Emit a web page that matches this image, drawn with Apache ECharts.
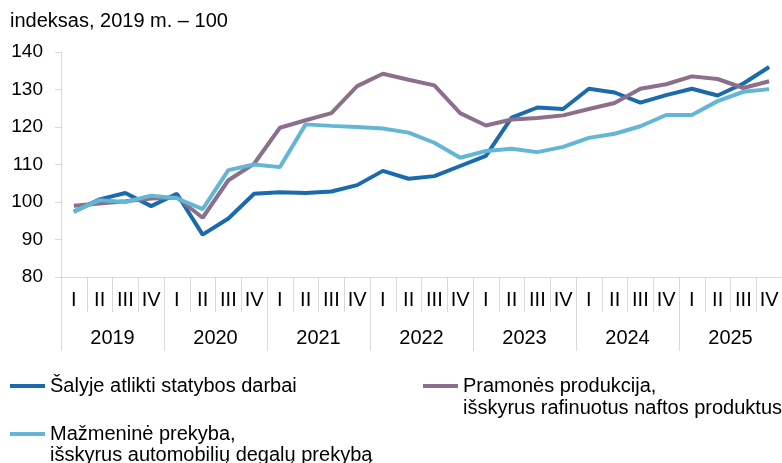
<!DOCTYPE html>
<html>
<head>
<meta charset="utf-8">
<script src="https://cdn.jsdelivr.net/npm/echarts@6/dist/echarts.min.js"></script>
<style>
  html, body { margin: 0; padding: 0; background: #fff; }
  #chart { width: 782px; height: 463px; }
</style>
</head>
<body>
<div id="chart"></div>
<script>
var quarters = ['I','II','III','IV','I','II','III','IV','I','II','III','IV','I','II','III','IV',
  'I','II','III','IV','I','II','III','IV','I','II','III','IV'];
var years = ['2019','2020','2021','2022','2023','2024','2025'];

var name_statyba = 'Šalyje atlikti statybos darbai';
var name_pramone = 'Pramonės produkcija,';
var name_prekyba = 'Mažmeninė prekyba,';
var note_pramone = 'išskyrus rafinuotus naftos produktus';
var note_prekyba = 'išskyrus automobilių degalų prekybą';

var statyba = [97.4, 100.7, 102.4, 98.9, 102.2, 91.3, 95.6, 102.2, 102.6, 102.4, 102.8, 104.5,
  108.3, 106.2, 106.9, 109.6, 112.3, 122.5, 125.2, 124.8, 130.2, 129.2, 126.5, 128.5,
  130.2, 128.4, 131.6, 136.0];
var pramone = [99.0, 99.6, 100.2, 100.9, 101.2, 95.8, 105.8, 110.2, 119.8, 121.8, 123.7, 130.9,
  134.2, 132.6, 131.1, 123.7, 120.4, 122.0, 122.4, 123.1, 124.8, 126.4, 130.2, 131.4,
  133.5, 132.8, 130.4, 132.2];
var prekyba = [97.5, 100.5, 100.0, 101.7, 101.0, 98.1, 108.5, 110.0, 109.3, 120.7, 120.3, 120.0,
  119.6, 118.5, 115.8, 111.8, 113.6, 114.2, 113.3, 114.7, 117.1, 118.2, 120.2, 123.2,
  123.2, 126.9, 129.4, 130.1];

var FONT = '"Liberation Sans", Arial, sans-serif';
var AXIS_COLOR = '#d9d9d9';

var chart = echarts.init(document.getElementById('chart'));

function legendBox(name, left, top) {
  return {
    data: [name],
    left: left,
    top: top,
    padding: 0,
    icon: 'rect',
    itemWidth: 35,
    itemHeight: 4,
    selectedMode: false,
    textStyle: { fontFamily: FONT, fontSize: 20, color: '#000', lineHeight: 24 }
  };
}

// second line of the two-line legend entries
function noteText(text, left, top) {
  return {
    type: 'text',
    left: left,
    top: top,
    style: { text: text, font: '20px ' + FONT, fill: '#000' }
  };
}

chart.setOption({
  animation: false,
  color: ['#1b6aab', '#8b6f8b', '#63b7d5'],
  title: {
    text: 'indeksas, 2019 m. – 100',
    left: 10,
    top: 11,
    padding: 0,
    textStyle: { fontFamily: FONT, fontSize: 20, fontWeight: 'normal', color: '#000' }
  },
  grid: { left: 61, top: 52, right: -2, bottom: 186, containLabel: false },
  legend: [
    legendBox(name_statyba, 10, 374),
    legendBox(name_pramone, 423, 374),
    legendBox(name_prekyba, 10, 422)
  ],
  graphic: [
    noteText(note_pramone, 463, 398),
    noteText(note_prekyba, 50, 445)
  ],
  xAxis: [
    {
      type: 'category',
      data: quarters,
      boundaryGap: true,
      axisLine: { lineStyle: { color: AXIS_COLOR, width: 1 } },
      axisTick: { show: true, interval: 0, length: 35, lineStyle: { color: AXIS_COLOR } },
      axisLabel: { interval: 0, margin: 13, fontFamily: FONT, fontSize: 20, color: '#000' }
    },
    {
      type: 'category',
      data: years,
      position: 'bottom',
      boundaryGap: true,
      axisLine: { show: false },
      axisTick: { show: true, interval: 0, length: 74, lineStyle: { color: AXIS_COLOR } },
      axisLabel: { interval: 0, margin: 51, fontFamily: FONT, fontSize: 20, color: '#000' }
    }
  ],
  yAxis: {
    type: 'value',
    min: 80,
    max: 140,
    interval: 10,
    axisLine: { show: true, lineStyle: { color: AXIS_COLOR, width: 1 } },
    axisTick: { show: true, length: 6, lineStyle: { color: AXIS_COLOR } },
    splitLine: { show: false },
    axisLabel: { margin: 18, fontFamily: FONT, fontSize: 19, color: '#000' }
  },
  series: [
    { name: name_statyba, type: 'line', data: statyba, symbol: 'none', lineStyle: { width: 4 } },
    { name: name_pramone, type: 'line', data: pramone, symbol: 'none', lineStyle: { width: 4 } },
    { name: name_prekyba, type: 'line', data: prekyba, symbol: 'none', lineStyle: { width: 4 } }
  ]
});
</script>
</body>
</html>
